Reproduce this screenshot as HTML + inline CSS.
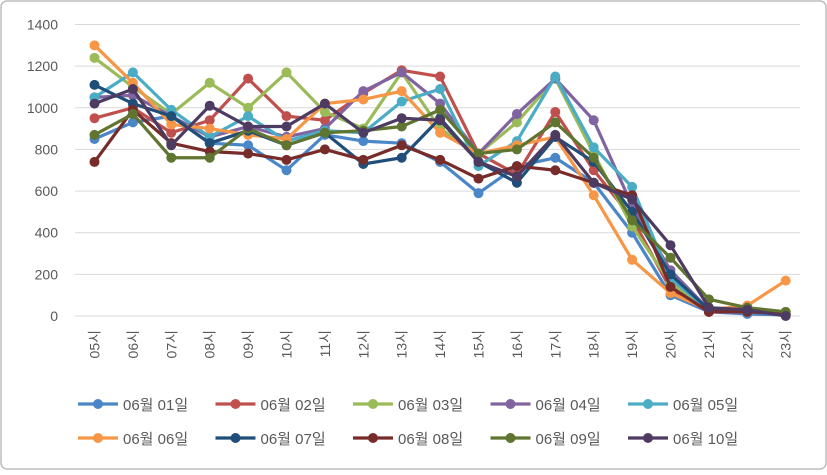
<!DOCTYPE html>
<html><head><meta charset="utf-8"><style>
body{margin:0;background:#fff;}
svg{font-family:"Liberation Sans","Noto Sans CJK KR",sans-serif;}
</style></head><body>
<svg id="c" width="827" height="470">
<rect x="1" y="1" width="825" height="468" rx="6" fill="#fff" stroke="#bdbdbd" stroke-width="1.5"/>
</svg>
<script>
const categories=["05시","06시","07시","08시","09시","10시","11시","12시","13시","14시","15시","16시","17시","18시","19시","20시","21시","22시","23시"];
const seriesNames=["06월 01일","06월 02일","06월 03일","06월 04일","06월 05일","06월 06일","06월 07일","06월 08일","06월 09일","06월 10일"];
const s01=[850,930,960,830,820,700,870,840,830,740,590,720,760,640,400,100,20,10,5];
const s02=[950,1000,880,940,1140,960,940,1070,1180,1150,780,680,980,700,470,130,20,20,10];
const s03=[1240,1100,970,1120,1000,1170,980,900,1170,900,780,930,1140,780,430,160,30,20,10];
const s04=[1050,1060,960,860,910,860,900,1080,1170,1020,780,970,1140,940,530,220,30,20,10];
const s05=[1050,1170,990,860,960,840,890,880,1030,1090,720,840,1150,810,620,180,30,20,10];
const s06=[1300,1120,920,900,870,850,1020,1040,1080,880,780,820,860,580,270,110,30,50,170];
const s07=[1110,1020,960,830,890,820,880,730,760,950,740,640,860,740,500,200,30,30,10];
const s08=[740,990,830,790,780,750,800,750,820,750,660,720,700,640,580,140,20,20,10];
const s09=[870,970,760,760,900,820,880,890,910,990,780,800,930,760,460,280,80,40,20];
const s10=[1020,1090,820,1010,910,910,1020,880,950,940,740,670,870,640,560,340,40,30,0];
const yTicks=[0,200,400,600,800,1000,1200,1400];
const allSeries=[s01,s02,s03,s04,s05,s06,s07,s08,s09,s10];
const colors=["#4A86C8","#C0504D","#9BBB59","#8064A2","#4BACC6","#F79646","#1F4E79","#772C2A","#5F7530","#4D3B62"];
const NS="http://www.w3.org/2000/svg";
const svg=document.getElementById('c');
const x0=94.5,dx=38.4,y0=316,yMax=1400,yTop=24.5;
const xS=i=>x0+i*dx;
const yS=v=>y0-(v/yMax)*(y0-yTop);
function mk(t,a){const e=document.createElementNS(NS,t);for(const k in a)e.setAttribute(k,a[k]);svg.appendChild(e);return e;}
yTicks.forEach(v=>{
 const g=mk('line',{x1:75,x2:800,y1:yS(v),y2:yS(v),stroke:'#d9d9d9','stroke-width':1});
 
 
 const t=mk('text',{x:58,y:yS(v)+5,'text-anchor':'end','font-size':14,fill:'#595959'});
 t.textContent=v;
 
 
});
categories.forEach((c,i)=>{
 const t=mk('text',{x:0,y:0,'text-anchor':'end','font-size':14,fill:'#595959',transform:`translate(${xS(i)+5},330) rotate(-90)`});
 t.textContent=c;
 
 
});
allSeries.forEach((s,k)=>{
 const p=mk('polyline',{points:s.map((v,i)=>xS(i)+','+yS(v)).join(' '),fill:'none',stroke:colors[k],'stroke-width':3.2,'stroke-linejoin':'round'});
 
 
 s.forEach((v,i)=>{
  const m=mk('circle',{cx:xS(i),cy:yS(v),r:5,fill:colors[k]});
  
  
 });
});
seriesNames.forEach((n,k)=>{
 const row=Math.floor(k/5),col=k%5;
 const lx=78+col*137.5,ly=404+row*34;
 const l=mk('line',{x1:lx,x2:lx+40,y1:ly,y2:ly,stroke:colors[k],'stroke-width':3.2});
 
 
 const c=mk('circle',{cx:lx+20,cy:ly,r:5,fill:colors[k]});
 
 
 const t=mk('text',{x:lx+45,y:ly+6,'font-size':15,fill:'#595959'});
 t.textContent=n;
 
 
});
</script>
</body></html>
